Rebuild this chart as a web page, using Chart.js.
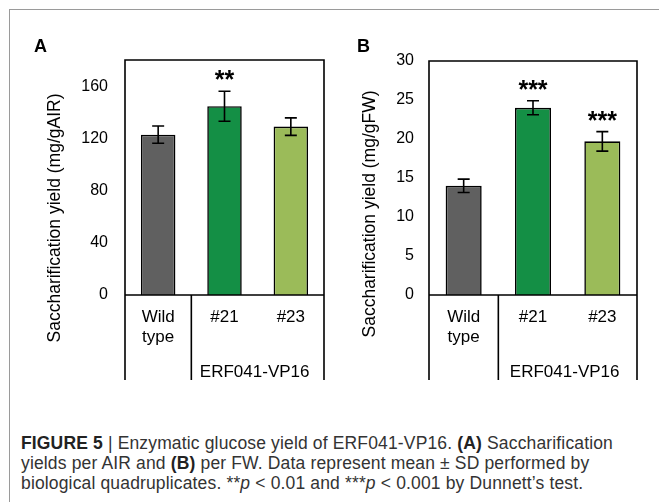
<!DOCTYPE html>
<html>
<head>
<meta charset="utf-8">
<script src="https://cdn.jsdelivr.net/npm/chart.js"></script>
<style>
  body { margin: 0; background: #fff; width: 659px; height: 502px; overflow: hidden; position: relative; font-family: 'Liberation Sans', Arial, sans-serif; }
  #frame { position: absolute; left: 9px; top: 9px; width: 700px; height: 600px; border-left: 1px solid #9a9a9a; border-top: 1px solid #9a9a9a; }
  .wrap { position: absolute; top: 0; height: 390px; }
  #wrapA { left: 0; width: 330px; }
  #wrapB { left: 330px; width: 329px; }
  .letter { position: absolute; top: 36px; font: bold 18px 'Liberation Sans', Arial, sans-serif; color: #000; }
  #caption { position: absolute; left: 21px; top: 433px; font-size: 17.5px; letter-spacing: 0.15px; line-height: 20px; color: #333; white-space: nowrap; }
  #caption b { color: #222; }
</style>
</head>
<body>
<div id="frame"></div>
<div class="wrap" id="wrapA"><canvas id="chartA"></canvas></div>
<div class="wrap" id="wrapB"><canvas id="chartB"></canvas></div>
<div class="letter" style="left:34px">A</div>
<div class="letter" style="left:357px">B</div>
<div id="caption">
  <b>FIGURE 5</b> | Enzymatic glucose yield of ERF041-VP16. <b>(A)</b> Saccharification<br>
  yields per AIR and <b>(B)</b> per FW. Data represent mean ± SD performed by<br>
  biological quadruplicates. **<i>p</i> &lt; 0.01 and ***<i>p</i> &lt; 0.001 by Dunnett’s test.
</div>
<script>
// categories and group
const categories = [['Wild', 'type'], '#21', '#23'];
const groupLabel = 'ERF041-VP16';
const barColors = ['#606060', '#148f45', '#9bbb59'];

// panel A: per AIR
const airMean = [122.8, 144.6, 129.0];
const airSd = [6.6, 11.5, 6.7];
const airStars = ['', '**', ''];
const airTicks = [0, 40, 80, 120, 160];

// panel B: per FW
const fwMean = [14.0, 24.0, 19.7];
const fwSd = [0.85, 0.9, 1.25];
const fwStars = ['', '***', '***'];
const fwTicks = [0, 5, 10, 15, 20, 25, 30];

function makeChart(id, mean, sd, stars, ticks, yMax, yTitle, layout) {
  const decor = {
    id: 'decor',
    afterDatasetsDraw(chart) {
      const ctx = chart.ctx;
      const xs = chart.scales.x, ys = chart.scales.y;
      const a = chart.chartArea;
      ctx.save();
      ctx.strokeStyle = '#000';
      ctx.fillStyle = '#000';
      ctx.lineWidth = 1.6;

      // error bars + significance stars
      ctx.font = 'bold 25px "Liberation Sans", Arial, sans-serif';
      ctx.textAlign = 'center';
      ctx.textBaseline = 'alphabetic';
      mean.forEach((m, i) => {
        const cx = xs.getPixelForValue(i);
        const hi = ys.getPixelForValue(m + sd[i]);
        const lo = ys.getPixelForValue(m - sd[i]);
        ctx.beginPath();
        ctx.moveTo(cx, hi); ctx.lineTo(cx, lo);
        ctx.moveTo(cx - 6, hi); ctx.lineTo(cx + 6, hi);
        ctx.moveTo(cx - 6, lo); ctx.lineTo(cx + 6, lo);
        ctx.stroke();
        if (stars[i]) {
          ctx.fillText(stars[i], cx, hi - 3);
        }
      });

      // plot box and category table
      const split = (xs.getPixelForValue(0) + xs.getPixelForValue(1)) / 2;
      const tableBottom = 380;
      ctx.beginPath();
      ctx.rect(a.left, a.top, a.right - a.left, a.bottom - a.top);
      ctx.moveTo(a.left, a.bottom); ctx.lineTo(a.left, tableBottom);
      ctx.moveTo(split, a.bottom); ctx.lineTo(split, tableBottom);
      ctx.moveTo(a.right, a.bottom); ctx.lineTo(a.right, tableBottom);
      ctx.stroke();

      ctx.font = '17px "Liberation Sans", Arial, sans-serif';
      ctx.textBaseline = 'middle';
      ctx.fillText(groupLabel, (split + a.right) / 2 - 3, 372);

      // y axis title
      ctx.translate(layout.titleX, layout.titleY);
      ctx.rotate(-Math.PI / 2);
      ctx.font = '17.5px "Liberation Sans", Arial, sans-serif';
      ctx.fillText(yTitle, 0, 0);
      ctx.restore();
    }
  };

  return new Chart(document.getElementById(id), {
    type: 'bar',
    data: {
      labels: categories,
      datasets: [{
        data: mean,
        backgroundColor: barColors,
        borderColor: '#000',
        borderWidth: 1.6,
        barPercentage: 0.52,
        categoryPercentage: 1
      }]
    },
    options: {
      responsive: true,
      maintainAspectRatio: false,
      animation: false,
      layout: { padding: { top: layout.top, right: layout.right, left: 0, bottom: 0 } },
      plugins: { legend: { display: false }, tooltip: { enabled: false } },
      scales: {
        x: {
          grid: { display: false, drawTicks: false },
          border: { display: false },
          ticks: { color: '#000', font: { size: 17, family: 'Liberation Sans' }, padding: 12, maxRotation: 0 },
          afterFit: s => { s.height = 95; }
        },
        y: {
          min: 0,
          max: yMax,
          grid: { display: false, drawTicks: false },
          border: { display: false },
          ticks: { color: '#000', font: { size: 16, family: 'Liberation Sans' }, padding: layout.tickPad, stepSize: ticks[1] - ticks[0] },
          afterBuildTicks: s => { s.ticks = ticks.map(v => ({ value: v })); },
          afterFit: s => { s.width = layout.left; }
        }
      }
    },
    plugins: [decor]
  });
}

makeChart('chartA', airMean, airSd, airStars, airTicks, 180, 'Saccharification yield (mg/gAIR)',
  { top: 60, right: 6, left: 125, tickPad: 17, titleX: 55, titleY: 218 });
makeChart('chartB', fwMean, fwSd, fwStars, fwTicks, 30, 'Saccharification yield (mg/gFW)',
  { top: 61, right: 22, left: 99, tickPad: 15, titleX: 40, titleY: 214 });
</script>
</body>
</html>
